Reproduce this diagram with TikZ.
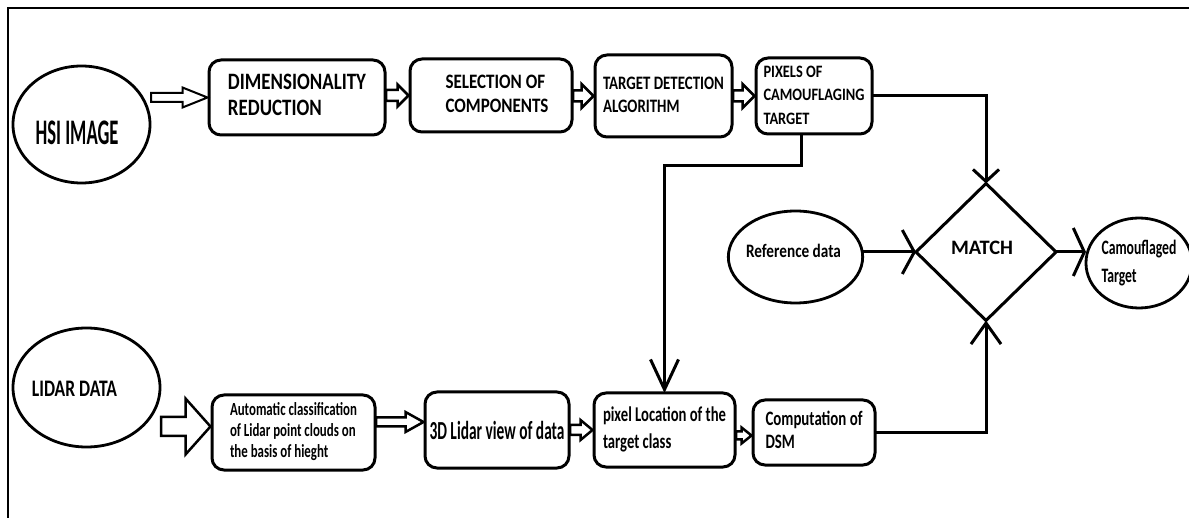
\documentclass[tikz,border=0pt]{standalone}
\usepackage{fontspec}
\setmainfont{Carlito}
\usepackage{graphicx}
\usetikzlibrary{arrows.meta,shapes.geometric,calc}

\newcommand{\fitw}[2]{\resizebox{#1}{\height}{#2}}
\newcommand{\txtlines}[1]{\begin{tabular}{@{}l@{}}#1\end{tabular}}
\newcommand{\nudge}[3]{\raisebox{#2}[\height][\depth]{\hspace*{#1}#3\hspace*{-#1}}}
% [#1 canvas y shift] #2 start node anchor (x only), #3 end node anchor, #4 shaft half, #5 head half, #6 head length, #7 line width
\newcommand{\blockarrow}[7][0pt]{%
  \draw[line width=#7, fill=white, line join=miter]
    let \p1=(#2), \p2=(#3), \n1={\x1+1pt}, \n2={\x2-1.5pt}, \n3={\y2+#1} in
    (\n1,\n3+#4) -- (\n2-#6,\n3+#4) -- (\n2-#6,\n3+#5) -- (\n2,\n3)
    -- (\n2-#6,\n3-#5) -- (\n2-#6,\n3-#4) -- (\n1,\n3-#4) -- cycle;}

\begin{document}
\begin{tikzpicture}[x=1pt,y=-1pt,
  box/.style={draw, line width=3pt, rounded corners=12pt, inner sep=0pt, outer sep=0pt},
  oval/.style={draw, ellipse, line width=2.8pt, inner sep=0pt, outer sep=0pt},
  conn/.style={line width=3pt}]
\useasboundingbox (0,0) rectangle (1189,518);
\draw[line width=2pt] (8,518) -- (8,8) -- (1189,8);

% top row
\node[oval, minimum width=137pt, minimum height=117pt, font=\fontsize{36}{40}\selectfont\bfseries] (hsi) at (81.5,124.5)
  {\nudge{-4.5pt}{-8pt}{\fitw{83pt}{HSI IMAGE}}};
\node[box, minimum width=176pt, minimum height=75pt, font=\fontsize{23.5}{26}\selectfont\bfseries] (dr) at (297,97.5)
  {\fitw{138pt}{\txtlines{DIMENSIONALITY\\REDUCTION}}};
\node[box, minimum width=162pt, minimum height=73pt, font=\fontsize{20.5}{24.3}\selectfont\bfseries] (sc) at (491,95.5)
  {\nudge{6pt}{0pt}{\fitw{103pt}{\txtlines{SELECTION OF\\COMPONENTS}}}};
\node[box, minimum width=137pt, minimum height=82pt, font=\fontsize{19}{23.3}\selectfont\bfseries] (td) at (663.5,96)
  {\fitw{121pt}{\txtlines{TARGET DETECTION\\ALGORITHM}}};
\node[box, minimum width=116pt, minimum height=76pt, font=\fontsize{17.4}{23.5}\selectfont\bfseries] (px) at (814,96)
  {\fitw{101pt}{\txtlines{PIXELS OF\\CAMOUFLAGING\\TARGET}}};

% middle
\node[oval, minimum width=133pt, minimum height=92pt, font=\fontsize{19}{22}\selectfont\bfseries] (ref) at (795.5,257)
  {\nudge{-2pt}{6pt}{\fitw{95pt}{Reference data}}};
\node[draw, diamond, line width=3pt, inner sep=0pt, outer sep=0pt, minimum width=140pt, minimum height=137pt,
  font=\fontsize{20.5}{24}\selectfont\bfseries] (match) at (986,252)
  {\nudge{-4pt}{4pt}{\fitw{62pt}{MATCH}}};
\node[oval, minimum width=98pt, minimum height=90pt, font=\fontsize{20.5}{28}\selectfont\bfseries] (cam) at (1139,263)
  {\fitw{75pt}{\txtlines{Camouflaged\\Target}}};

% bottom row
\node[oval, minimum width=147pt, minimum height=119pt, font=\fontsize{23.7}{26}\selectfont\bfseries] (lidar) at (86.5,387.5)
  {\nudge{-12pt}{-1.5pt}{\fitw{85pt}{LIDAR DATA}}};
\node[box, minimum width=163pt, minimum height=75pt, font=\fontsize{18.5}{21}\selectfont\bfseries] (auto) at (293.5,432.5)
  {\fitw{127pt}{\txtlines{Automatic classification\\of Lidar point clouds on\\the basis of hieght}}};
\node[box, minimum width=144pt, minimum height=76pt, font=\fontsize{26}{28}\selectfont\bfseries] (v3d) at (497,430)
  {\fitw{135pt}{3D Lidar view of data}};
\node[box, minimum width=141pt, minimum height=74pt, font=\fontsize{21}{26.7}\selectfont\bfseries] (pl) at (664.5,430)
  {\fitw{123pt}{\txtlines{pixel Location of the\\target class}}};
\node[box, minimum width=122pt, minimum height=65pt, font=\fontsize{20.5}{23.3}\selectfont\bfseries] (dsm) at (814,432.5)
  {\fitw{97pt}{\txtlines{Computation of\\DSM}}};

% hollow block arrows
\blockarrow{hsi.east}{dr.west}{4.5pt}{10pt}{25pt}{2pt}
\blockarrow{dr.east}{sc.west}{5.5pt}{11pt}{11pt}{2.5pt}
\blockarrow{sc.east}{td.west}{5.5pt}{12pt}{12pt}{2.5pt}
\blockarrow{td.east}{px.west}{5.5pt}{12pt}{12pt}{2.5pt}
\blockarrow[6pt]{lidar.east}{auto.west}{9.5pt}{28pt}{25pt}{2.5pt}
\blockarrow[8pt]{auto.east}{v3d.west}{4.5pt}{10pt}{18pt}{2.5pt}
\blockarrow{v3d.east}{pl.west}{5pt}{10pt}{12pt}{2.5pt}
\blockarrow[-3pt]{pl.east}{dsm.west}{4pt}{8pt}{10pt}{2.5pt}

% line connectors
\draw[conn, -{Straight Barb[length=12pt,width=26pt]}] (px.east) -| (match.north);
\draw[conn, -{Straight Barb[length=30pt,width=28pt]}] ([xshift=-13pt]px.south) -- ++(0,32) -| (pl.north);
\draw[conn, -{Straight Barb[length=12pt,width=44pt]}] (match.west -| ref.east) -- (match.west);
\draw[conn, -{Straight Barb[length=11pt,width=48pt]}] (match.east) -- (match.east -| cam.west);
\draw[conn, -{Straight Barb[length=21pt,width=30pt]}] (dsm.east) -| (match.south);
\end{tikzpicture}
\end{document}
